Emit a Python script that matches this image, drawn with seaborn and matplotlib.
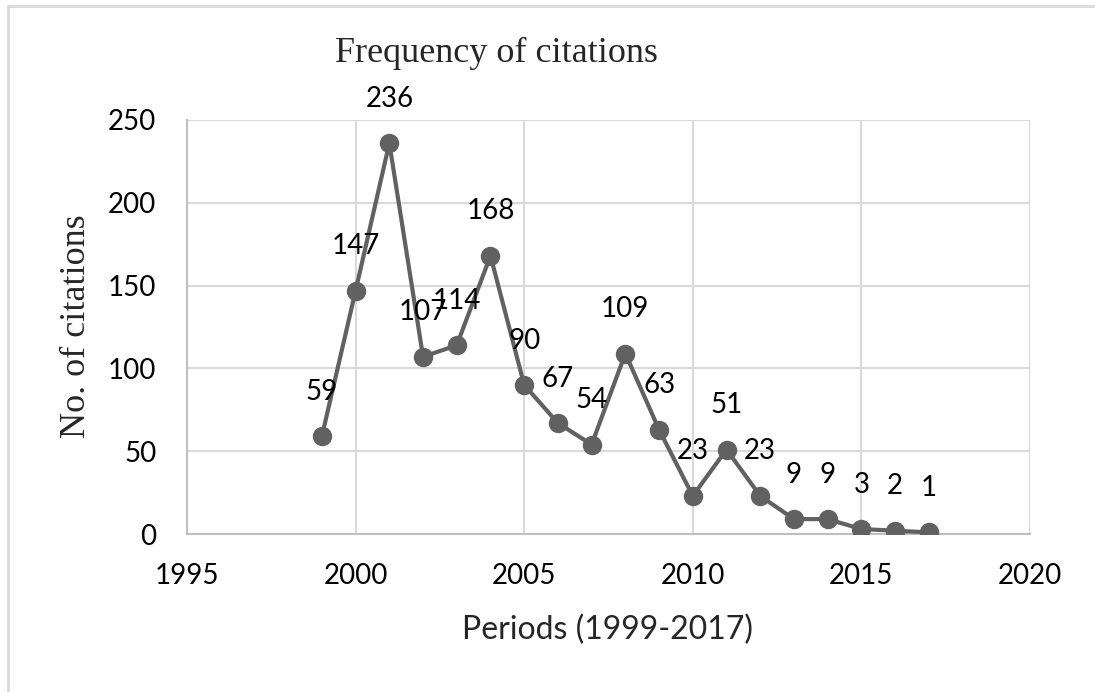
import matplotlib
matplotlib.use("Agg")
import matplotlib.pyplot as plt
import matplotlib.lines as mlines
import pandas as pd
import seaborn as sns

# citations per year
years = [1999, 2000, 2001, 2002, 2003, 2004, 2005, 2006, 2007, 2008,
         2009, 2010, 2011, 2012, 2013, 2014, 2015, 2016, 2017]
citations = [59, 147, 236, 107, 114, 168, 90, 67, 54, 109,
             63, 23, 51, 23, 9, 9, 3, 2, 1]

x_ticks = [1995, 2000, 2005, 2010, 2015, 2020]
y_ticks = [0, 50, 100, 150, 200, 250]

line_color = "#616161"
grid_color = "#d9d9d9"


def main():
    sns.set_style("white")
    plt.rcParams["font.family"] = ["Lato", "DejaVu Sans"]

    df = pd.DataFrame({"year": years, "citations": citations})

    fig = plt.figure(figsize=(10.95, 6.92), dpi=100)
    ax = fig.add_axes([0.1708, 0.2283, 0.7698, 0.5983])

    sns.lineplot(data=df, x="year", y="citations", ax=ax, color=line_color,
                 linewidth=3, marker="o", markersize=14, markeredgewidth=0,
                 zorder=3)

    for x, y in zip(years, citations):
        ax.annotate(str(y), (x, y), xytext=(0, 32), textcoords="offset points",
                    ha="center", va="center", fontsize=20, color="black")

    ax.set_xlim(1995, 2020)
    ax.set_ylim(0, 250)
    ax.set_xticks(x_ticks)
    ax.set_yticks(y_ticks)
    ax.tick_params(axis="both", length=0, labelsize=20, colors="black")
    ax.tick_params(axis="x", pad=21)
    ax.tick_params(axis="y", pad=22)

    ax.grid(True, color=grid_color, linewidth=1.5)
    ax.set_axisbelow(True)
    for side in ["top", "right"]:
        ax.spines[side].set_visible(False)
    for side in ["left", "bottom"]:
        ax.spines[side].set_color("#bfbfbf")
        ax.spines[side].set_linewidth(1.5)

    ax.set_xlabel("")
    ax.set_ylabel("")

    fig.text(496 / 1095, 1 - 53 / 692, "Frequency of citations",
             family="Liberation Serif", fontsize=26, ha="center", va="center")
    fig.text(77 / 1095, 1 - 326 / 692, "No. of citations",
             family="Liberation Serif", fontsize=26, ha="center", va="center",
             rotation=90)
    fig.text(607 / 1095, 1 - 630 / 692, "Periods (1999-2017)",
             fontsize=23, ha="center", va="center")

    # outer chart border (top and left edges visible)
    fig.add_artist(mlines.Line2D([8 / 1095, 1], [1 - 6 / 692, 1 - 6 / 692],
                                 transform=fig.transFigure, color="#d9d9d9", linewidth=2))
    fig.add_artist(mlines.Line2D([8 / 1095, 8 / 1095], [0, 1 - 6 / 692],
                                 transform=fig.transFigure, color="#d9d9d9", linewidth=2))

    fig.savefig("out.png", dpi=100)


main()
